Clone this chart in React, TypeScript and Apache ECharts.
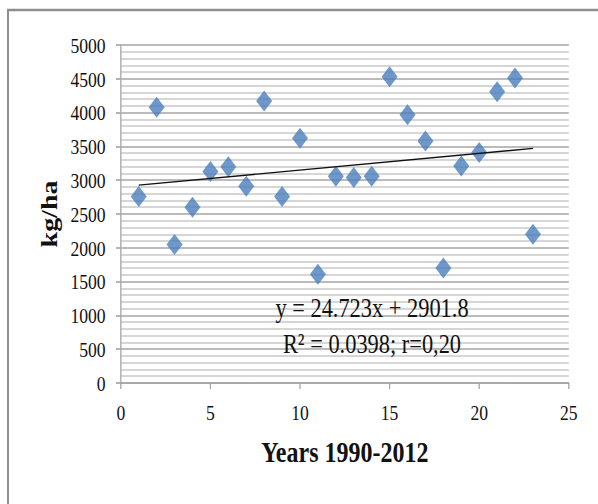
import React, { useEffect, useRef } from "react";
import * as echarts from "echarts";

// Year index (1 = 1990 ... 23 = 2012) and yield in kg/ha
const yearIndex = [1, 2, 3, 4, 5, 6, 7, 8, 9, 10, 11, 12, 13, 14, 15, 16, 17, 18, 19, 20, 21, 22, 23];
const yieldKgHa = [2760, 4080, 2050, 2600, 3130, 3200, 2910, 4170, 2760, 3620, 1610, 3060, 3040, 3060, 4530, 3970, 3580, 1700, 3210, 3410, 4310, 4510, 2200];

// Linear trend y = a*x + b over the observed years
const trendSlope = 24.723;
const trendIntercept = 2901.8;
const trendRange = [1, 23];

const equationLines = ["y = 24.723x + 2901.8", "R\u00B2 = 0.0398; r=0,20"];
const xTitle = "Years 1990-2012";
const yTitle = "kg/ha";

// the chart is laid out wide and compressed horizontally for a narrow serif look
const SX = 0.8;
const W = 748;
const H = 504;
const FONT = "Liberation Serif";

export default function App() {
  const ref = useRef<HTMLDivElement>(null);

  useEffect(() => {
    if (!ref.current) return;
    const chart = echarts.init(ref.current, null, { renderer: "svg" });
    const points = yearIndex.map((x, i) => [x, yieldKgHa[i]]);
    const trend = trendRange.map((x) => [x, trendSlope * x + trendIntercept]);
    const plain = (v: number) => String(v);

    chart.setOption({
      animation: false,
      backgroundColor: "#ffffff",
      textStyle: { fontFamily: FONT },
      grid: { left: 151, right: 37, top: 45, bottom: 121, containLabel: false },
      xAxis: {
        type: "value",
        min: 0,
        max: 25,
        interval: 5,
        name: xTitle,
        nameLocation: "middle",
        nameGap: 54,
        nameTextStyle: { fontFamily: FONT, fontSize: 30, fontWeight: "bold", color: "#111" },
        axisLine: { lineStyle: { color: "#a3a3a3", width: 1.6 } },
        axisTick: { show: true, length: 6, lineStyle: { color: "#a3a3a3", width: 1.6 } },
        axisLabel: { fontFamily: FONT, fontSize: 22, color: "#111", margin: 18, formatter: plain },
        splitLine: { show: false },
      },
      yAxis: {
        type: "value",
        min: 0,
        max: 5000,
        interval: 500,
        name: yTitle,
        nameLocation: "middle",
        nameGap: 76,
        nameTextStyle: { fontFamily: FONT, fontSize: 28, fontWeight: "bold", color: "#111" },
        axisLine: { show: true, lineStyle: { color: "#b5b5b5", width: 2 } },
        axisTick: { show: true, length: 6, lineStyle: { color: "#a3a3a3", width: 1.6 } },
        axisLabel: { fontFamily: FONT, fontSize: 22, color: "#111", margin: 19, formatter: plain },
        splitLine: { show: true, lineStyle: { color: "#a5a5a5", width: 1.6 } },
        minorTick: { show: false, splitNumber: 5 },
        minorSplitLine: { show: true, lineStyle: { color: "#c8c8c8", width: 1.5 } },
      },
      series: [
        {
          type: "scatter",
          data: points,
          symbol: "diamond",
          symbolSize: [20, 21],
          itemStyle: { color: "#4a7ebb" },
          z: 3,
        },
        {
          type: "line",
          data: trend,
          symbol: "none",
          lineStyle: { color: "#111", width: 1.4 },
          z: 4,
        },
      ],
      graphic: [
        {
          type: "rect",
          shape: { x: 10, y: 10, width: 900, height: 700 },
          style: { fill: "none", stroke: "#8e8e8e", lineWidth: 2.5 },
          silent: true,
          z: 0,
        },
        {
          type: "text",
          x: 465,
          y: 307,
          style: {
            text: equationLines[0],
            fontFamily: FONT,
            fontSize: 28,
            fill: "#111",
            textAlign: "center",
            textVerticalAlign: "middle",
          },
          z: 10,
        },
        {
          type: "text",
          x: 465,
          y: 343,
          style: {
            text: equationLines[1],
            fontFamily: FONT,
            fontSize: 28,
            fill: "#111",
            textAlign: "center",
            textVerticalAlign: "middle",
          },
          z: 10,
        },
      ],
    });

    return () => chart.dispose();
  }, []);

  return (
    <div
      style={{
        position: "fixed",
        left: 0,
        top: 0,
        width: 598,
        height: 504,
        overflow: "hidden",
        background: "#fff",
      }}
    >
      <div
        ref={ref}
        style={{
          width: W,
          height: H,
          transform: `scaleX(${SX})`,
          transformOrigin: "0 0",
        }}
      />
    </div>
  );
}
